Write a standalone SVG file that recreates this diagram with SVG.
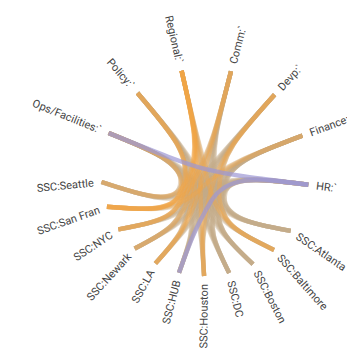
<svg xmlns="http://www.w3.org/2000/svg" width="347" height="354" viewBox="0 0 347 354">
<style>
.e path{fill:none;stroke-width:4.4;stroke-opacity:0.4;stroke-linecap:butt}
.t path{stroke:#c3a986}
.o path{stroke:#f0a444;stroke-opacity:0.42}
.p path{stroke:#9d97d4;stroke-opacity:0.7;stroke-width:4.4}
text{font-family:Roboto,"Liberation Sans",sans-serif;font-size:11px;fill:#444}
.r{text-anchor:start}
.l{text-anchor:end}
</style>
<rect width="347" height="354" fill="#fff"/>
<g id="connectors" class="e">
<g class="t">
<path d="M290.7 230.9C245.4 222.5 222.7 218.2 203.7 191S158.7 153.3 108.6 133"/>
<path d="M290.7 230.9C245.4 222.5 222.7 218.2 206.7 186.8S172.6 134 137.5 93"/>
<path d="M290.7 230.9C245.4 222.5 222.7 218.2 211.4 184.4S193.8 123.3 181.6 70.7"/>
<path d="M290.7 230.9C245.4 222.5 222.7 218.2 216.6 184.5S217.5 123.6 231 71.3"/>
<path d="M290.7 230.9C245.4 222.5 222.7 218.2 221.2 186.9S238.5 134.9 274.6 94.7"/>
<path d="M290.7 230.9C245.4 222.5 222.7 218.2 224.2 191.3S251.9 154.5 302.4 135.6"/>
<path d="M290.7 230.9C245.4 222.5 222.7 218.2 224.8 196.5S254.7 178.1 308.3 184.7"/>
<path d="M274 249.9C237 232 218.5 223 201.6 193.4S158.7 153.3 108.6 133"/>
<path d="M274 249.9C237 232 218.5 223 204.6 189.2S172.6 134 137.5 93"/>
<path d="M274 249.9C237 232 218.5 223 214.5 186.9S217.5 123.6 231 71.3"/>
<path d="M274 249.9C237 232 218.5 223 222.1 193.7S251.9 154.5 302.4 135.6"/>
<path d="M274 249.9C237 232 218.5 223 222.7 198.9S254.7 178.1 308.3 184.7"/>
<path d="M253 264.2C226.5 239.1 213.3 226.6 198.9 195.2S158.7 153.3 108.6 133"/>
<path d="M253 264.2C226.5 239.1 213.3 226.6 202 190.9S172.6 134 137.5 93"/>
<path d="M253 264.2C226.5 239.1 213.3 226.6 206.7 188.6S193.8 123.3 181.6 70.7"/>
<path d="M253 264.2C226.5 239.1 213.3 226.6 211.9 188.6S217.5 123.6 231 71.3"/>
<path d="M253 264.2C226.5 239.1 213.3 226.6 216.5 191.1S238.5 134.9 274.6 94.7"/>
<path d="M253 264.2C226.5 239.1 213.3 226.6 219.4 195.4S251.9 154.5 302.4 135.6"/>
<path d="M253 264.2C226.5 239.1 213.3 226.6 220.1 200.6S254.7 178.1 308.3 184.7"/>
<path d="M229.2 273.1C214.6 243.6 207.3 228.8 196 196.3S158.7 153.3 108.6 133"/>
<path d="M229.2 273.1C214.6 243.6 207.3 228.8 199 192.1S172.6 134 137.5 93"/>
<path d="M229.2 273.1C214.6 243.6 207.3 228.8 203.7 189.7S193.8 123.3 181.6 70.7"/>
<path d="M229.2 273.1C214.6 243.6 207.3 228.8 208.9 189.8S217.5 123.6 231 71.3"/>
<path d="M229.2 273.1C214.6 243.6 207.3 228.8 213.5 192.2S238.5 134.9 274.6 94.7"/>
<path d="M229.2 273.1C214.6 243.6 207.3 228.8 216.5 196.6S251.9 154.5 302.4 135.6"/>
<path d="M229.2 273.1C214.6 243.6 207.3 228.8 217.1 201.8S254.7 178.1 308.3 184.7"/>
<path d="M204.1 276C202.1 245 201 229.5 192.8 196.6S158.7 153.3 108.6 133"/>
<path d="M204.1 276C202.1 245 201 229.5 195.9 192.4S172.6 134 137.5 93"/>
<path d="M204.1 276C202.1 245 201 229.5 205.8 190.1S217.5 123.6 231 71.3"/>
<path d="M204.1 276C202.1 245 201 229.5 213.3 196.9S251.9 154.5 302.4 135.6"/>
<path d="M204.1 276C202.1 245 201 229.5 213.9 202.1S254.7 178.1 308.3 184.7"/>
<path d="M179 272.7C189.5 243.4 194.8 228.7 189.7 196.2S158.7 153.3 108.6 133"/>
<path d="M179 272.7C189.5 243.4 194.8 228.7 192.7 192S172.6 134 137.5 93"/>
<path d="M179 272.7C189.5 243.4 194.8 228.7 197.4 189.7S193.8 123.3 181.6 70.7"/>
<path d="M179 272.7C189.5 243.4 194.8 228.7 202.6 189.7S217.5 123.6 231 71.3"/>
<path d="M179 272.7C189.5 243.4 194.8 228.7 207.2 192.2S238.5 134.9 274.6 94.7"/>
<path d="M179 272.7C189.5 243.4 194.8 228.7 210.2 196.5S251.9 154.5 302.4 135.6"/>
<path d="M155.4 263.4C177.7 238.7 188.9 226.4 186.7 195.1S158.7 153.3 108.6 133"/>
<path d="M155.4 263.4C177.7 238.7 188.9 226.4 189.8 190.8S172.6 134 137.5 93"/>
<path d="M155.4 263.4C177.7 238.7 188.9 226.4 204.3 191S238.5 134.9 274.6 94.7"/>
<path d="M155.4 263.4C177.7 238.7 188.9 226.4 207.2 195.3S251.9 154.5 302.4 135.6"/>
<path d="M155.4 263.4C177.7 238.7 188.9 226.4 207.9 200.5S254.7 178.1 308.3 184.7"/>
<path d="M134.7 248.6C167.4 231.3 183.7 222.7 184.2 193.2S158.7 153.3 108.6 133"/>
<path d="M134.7 248.6C167.4 231.3 183.7 222.7 187.2 189S172.6 134 137.5 93"/>
<path d="M134.7 248.6C167.4 231.3 183.7 222.7 197.1 186.7S217.5 123.6 231 71.3"/>
<path d="M134.7 248.6C167.4 231.3 183.7 222.7 201.7 189.2S238.5 134.9 274.6 94.7"/>
<path d="M134.7 248.6C167.4 231.3 183.7 222.7 204.7 193.5S251.9 154.5 302.4 135.6"/>
<path d="M134.7 248.6C167.4 231.3 183.7 222.7 205.3 198.7S254.7 178.1 308.3 184.7"/>
<path d="M118.3 229.4C159.2 221.7 179.6 217.9 182.1 190.8S158.7 153.3 108.6 133"/>
<path d="M118.3 229.4C159.2 221.7 179.6 217.9 195.1 184.3S217.5 123.6 231 71.3"/>
<path d="M118.3 229.4C159.2 221.7 179.6 217.9 199.7 186.8S238.5 134.9 274.6 94.7"/>
<path d="M118.3 229.4C159.2 221.7 179.6 217.9 202.6 191.1S251.9 154.5 302.4 135.6"/>
<path d="M118.3 229.4C159.2 221.7 179.6 217.9 203.2 196.3S254.7 178.1 308.3 184.7"/>
<path d="M106.9 206.7C153.5 210.4 176.7 212.2 198.2 183.9S238.5 134.9 274.6 94.7"/>
<path d="M106.9 206.7C153.5 210.4 176.7 212.2 201.8 193.5S254.7 178.1 308.3 184.7"/>
<path d="M101.5 182C150.8 198 175.4 206 180 184.9S158.7 153.3 108.6 133"/>
<path d="M101.5 182C150.8 198 175.4 206 183.1 180.7S172.6 134 137.5 93"/>
<path d="M101.5 182C150.8 198 175.4 206 193 178.4S217.5 123.6 231 71.3"/>
<path d="M101.5 182C150.8 198 175.4 206 197.6 180.8S238.5 134.9 274.6 94.7"/>
<path d="M101.5 182C150.8 198 175.4 206 200.5 185.2S251.9 154.5 302.4 135.6"/>
<path d="M101.5 182C150.8 198 175.4 206 201.1 190.4S254.7 178.1 308.3 184.7"/>
</g>
<g class="o">
<path d="M274 249.9C237 232 218.5 223 209.3 186.8S193.8 123.3 181.6 70.7"/>
<path d="M274 249.9C237 232 218.5 223 219.1 189.3S238.5 134.9 274.6 94.7"/>
<path d="M204.1 276C202.1 245 201 229.5 200.5 190.1S193.8 123.3 181.6 70.7"/>
<path d="M204.1 276C202.1 245 201 229.5 210.4 192.6S238.5 134.9 274.6 94.7"/>
<path d="M155.4 263.4C177.7 238.7 188.9 226.4 194.5 188.5S193.8 123.3 181.6 70.7"/>
<path d="M155.4 263.4C177.7 238.7 188.9 226.4 199.7 188.5S217.5 123.6 231 71.3"/>
<path d="M134.7 248.6C167.4 231.3 183.7 222.7 191.9 186.6S193.8 123.3 181.6 70.7"/>
<path d="M118.3 229.4C159.2 221.7 179.6 217.9 185.2 186.6S172.6 134 137.5 93"/>
<path d="M118.3 229.4C159.2 221.7 179.6 217.9 189.8 184.2S193.8 123.3 181.6 70.7"/>
<path d="M106.9 206.7C153.5 210.4 176.7 212.2 180.7 188S158.7 153.3 108.6 133"/>
<path d="M106.9 206.7C153.5 210.4 176.7 212.2 183.7 183.8S172.6 134 137.5 93"/>
<path d="M106.9 206.7C153.5 210.4 176.7 212.2 188.4 181.4S193.8 123.3 181.6 70.7"/>
<path d="M106.9 206.7C153.5 210.4 176.7 212.2 193.6 181.5S217.5 123.6 231 71.3"/>
<path d="M106.9 206.7C153.5 210.4 176.7 212.2 201.2 188.3S251.9 154.5 302.4 135.6"/>
<path d="M101.5 182C150.8 198 175.4 206 187.7 178.3S193.8 123.3 181.6 70.7"/>
</g>
<g class="p">
<path d="M108.6 133C158.7 153.3 184.6 163.8 205.7 169.2S254.7 178.1 308.3 184.7"/>
<path d="M179 272.7C189.5 243.4 194.8 228.7 210.8 201.7S254.7 178.1 308.3 184.7"/>
</g>
</g>
<g id="n-atlanta"><text class="r" transform="translate(297.3 235.4) rotate(34.5)" dy="0.35em">SSC:Atlanta</text></g>
<g id="n-baltimore"><text class="r" transform="translate(279.3 255.9) rotate(48.5)" dy="0.35em">SSC:Baltimore</text></g>
<g id="n-boston"><text class="r" transform="translate(256.7 271.3) rotate(62.5)" dy="0.35em">SSC:Boston</text></g>
<g id="n-dc"><text class="r" transform="translate(231.1 280.9) rotate(76.5)" dy="0.35em">SSC:DC</text></g>
<g id="n-houston"><text class="l" transform="translate(204 284) rotate(-89.5)" dy="0.35em">SSC:Houston</text></g>
<g id="n-hub"><text class="l" transform="translate(177 280.4) rotate(-75.5)" dy="0.35em">SSC:HUB</text></g>
<g id="n-la"><text class="l" transform="translate(151.6 270.4) rotate(-61.5)" dy="0.35em">SSC:LA</text></g>
<g id="n-newark"><text class="l" transform="translate(129.3 254.5) rotate(-47.5)" dy="0.35em">SSC:Newark</text></g>
<g id="n-nyc"><text class="l" transform="translate(111.6 233.8) rotate(-33.5)" dy="0.35em">SSC:NYC</text></g>
<g id="n-sanfran"><text class="l" transform="translate(99.4 209.4) rotate(-19.5)" dy="0.35em">SSC:San Fran</text></g>
<g id="n-seattle"><text class="l" transform="translate(93.6 182.7) rotate(-5.5)" dy="0.35em">SSC:Seattle</text></g>
<g id="n-ops"><text class="l" transform="translate(101.2 130) rotate(22)" dy="0.35em">Ops/Facilities:`</text></g>
<g id="n-policy"><text class="l" transform="translate(132.3 86.9) rotate(49.5)" dy="0.35em">Policy:`</text></g>
<g id="n-regional"><text class="l" transform="translate(179.8 62.9) rotate(77)" dy="0.35em">Regional:`</text></g>
<g id="n-comm"><text class="r" transform="translate(233 63.6) rotate(-75.5)" dy="0.35em">Comm:`</text></g>
<g id="n-devp"><text class="r" transform="translate(279.9 88.8) rotate(-48)" dy="0.35em">Devp:`</text></g>
<g id="n-finance"><text class="r" transform="translate(309.9 132.8) rotate(-20.5)" dy="0.35em">Finance:`</text></g>
<g id="n-hr"><text class="r" transform="translate(316.2 185.6) rotate(7)" dy="0.35em">HR:`</text></g>
</svg>
